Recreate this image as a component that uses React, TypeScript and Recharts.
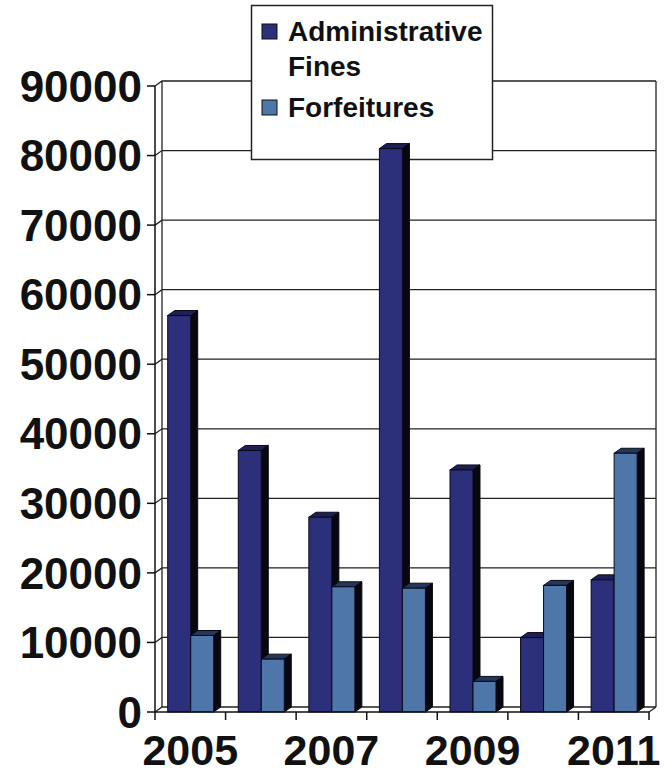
import React from "react";
import { Bar, BarChart, CartesianGrid, XAxis, YAxis } from "recharts";

const years = ["2005", "2006", "2007", "2008", "2009", "2010", "2011"];
const administrativeFines = [57000, 37600, 28000, 81000, 34800, 10700, 19000];
const forfeitures = [11000, 7600, 18000, 17800, 4400, 18200, 37200];
const yTicks = [0, 10000, 20000, 30000, 40000, 50000, 60000, 70000, 80000, 90000];
const labelledYears = ["2005", "2007", "2009", "2011"];

const data = years.map((year, i) => ({
  year,
  fines: administrativeFines[i],
  forfeitures: forfeitures[i],
}));

const FONT = '"Liberation Sans", Arial, Helvetica, sans-serif';
// depth of the pseudo-3D extrusion (right / up)
const DX = 7;
const DY = 5;

const FINES_FRONT = "#2c2f7a";
const FINES_TOP = "#1d1f55";
const FORF_FRONT = "#4e76a8";
const FORF_TOP = "#24365a";
const SIDE = "#07070f";

function makeBox(front: string, top: string) {
  return (props: any) => {
    const { x, y, width, height } = props;
    if (height == null || height <= 0) return <g />;
    return (
      <g>
        <polygon
          points={`${x},${y} ${x + DX},${y - DY} ${x + width + DX},${y - DY} ${x + width},${y}`}
          fill={top}
          stroke="#0a0a18"
          strokeWidth={1}
        />
        <polygon
          points={`${x + width},${y} ${x + width + DX},${y - DY} ${x + width + DX},${y + height - DY} ${x + width},${y + height}`}
          fill={SIDE}
          stroke={SIDE}
          strokeWidth={1}
        />
        <rect x={x} y={y} width={width} height={height} fill={front} stroke="#0a0a18" strokeWidth={1} />
      </g>
    );
  };
}

// back-wall gridline, joined to the front axis by a short diagonal
function wallLine(props: any) {
  const { x1, x2, y1, key } = props;
  return (
    <polyline
      key={key}
      points={`${x1},${y1} ${x1 + DX},${y1 - DY} ${x2 + DX},${y1 - DY}`}
      fill="none"
      stroke="#222"
      strokeWidth={1.3}
    />
  );
}

function wallEdge(props: any) {
  const { x1, y1, y2, key, index } = props;
  return (
    <g key={key}>
      <line x1={x1 + DX} y1={y1 - DY} x2={x1 + DX} y2={y2 - DY} stroke="#222" strokeWidth={1.3} />
      {index === 1 && (
        <line x1={x1} y1={y2} x2={x1 + DX} y2={y2 - DY} stroke="#222" strokeWidth={1.3} />
      )}
    </g>
  );
}

function YearTick(props: any) {
  const { x, y, payload, visibleTicksCount } = props;
  const half = payload && payload.offset ? payload.offset : 494 / 7 / 2;
  const isLast = payload.index === (visibleTicksCount ?? years.length) - 1;
  return (
    <g>
      <line x1={x - half} y1={y - 8} x2={x - half} y2={y} stroke="#111" strokeWidth={1.5} />
      {isLast && <line x1={x + half} y1={y - 8} x2={x + half} y2={y} stroke="#111" strokeWidth={1.5} />}
      {labelledYears.includes(payload.value) && (
        <text x={x} y={y + 45} textAnchor="middle" fontSize={43} fontWeight="bold" fontFamily={FONT} fill="#111">
          {payload.value}
        </text>
      )}
    </g>
  );
}

// legend drawn in the svg, between the back wall and the bars
const legendItems = [
  { lines: ["Administrative", "Fines"], color: FINES_FRONT },
  { lines: ["Forfeitures"], color: FORF_FRONT },
];

function LegendPanel() {
  let top = 24;
  return (
    <g fontFamily={FONT} fontWeight="bold" fontSize={28} fill="#111">
      <rect x={251.5} y={5.5} width={241} height={154} fill="#fff" stroke="#222" strokeWidth={1.5} />
      {legendItems.map((item) => {
        const y0 = top;
        top += item.lines.length * 35 + 6;
        return (
          <g key={item.lines[0]}>
            <rect x={262} y={y0} width={15} height={15} fill={item.color} stroke="#111" strokeWidth={1} />
            {item.lines.map((line, j) => (
              <text key={line} x={288} y={y0 + 17 + j * 35}>
                {line}
              </text>
            ))}
          </g>
        );
      })}
    </g>
  );
}

export default function App() {
  return (
    <div style={{ position: "absolute", left: 0, top: 0, width: 664, height: 778, background: "#fff" }}>
      <BarChart
        width={664}
        height={778}
        data={data}
        margin={{ top: 86, right: 15, bottom: 0, left: 0 }}
        barCategoryGap="18%"
        barGap={0}
      >
        <CartesianGrid
          horizontal={wallLine}
          vertical={wallEdge}
          verticalCoordinatesGenerator={({ offset }: any) => [offset.left, offset.left + offset.width]}
        />
        <YAxis
          width={155}
          domain={[0, 90000]}
          ticks={yTicks}
          interval={0}
          tickSize={8}
          tickMargin={5}
          axisLine={{ stroke: "#111", strokeWidth: 1.5 }}
          tickLine={{ stroke: "#111", strokeWidth: 1.5 }}
          tick={{ fontSize: 44, fontWeight: "bold", fontFamily: FONT, fill: "#111" }}
        />
        <XAxis
          dataKey="year"
          height={66}
          interval={0}
          tickSize={8}
          tickMargin={0}
          tickLine={false}
          axisLine={{ stroke: "#111", strokeWidth: 1.5 }}
          tick={<YearTick />}
        />
        <LegendPanel />
        <Bar
          dataKey="fines"
          name="Administrative Fines"
          fill={FINES_FRONT}
          shape={makeBox(FINES_FRONT, FINES_TOP)}
          isAnimationActive={false}
        />
        <Bar
          dataKey="forfeitures"
          name="Forfeitures"
          fill={FORF_FRONT}
          shape={makeBox(FORF_FRONT, FORF_TOP)}
          isAnimationActive={false}
        />
      </BarChart>
    </div>
  );
}
